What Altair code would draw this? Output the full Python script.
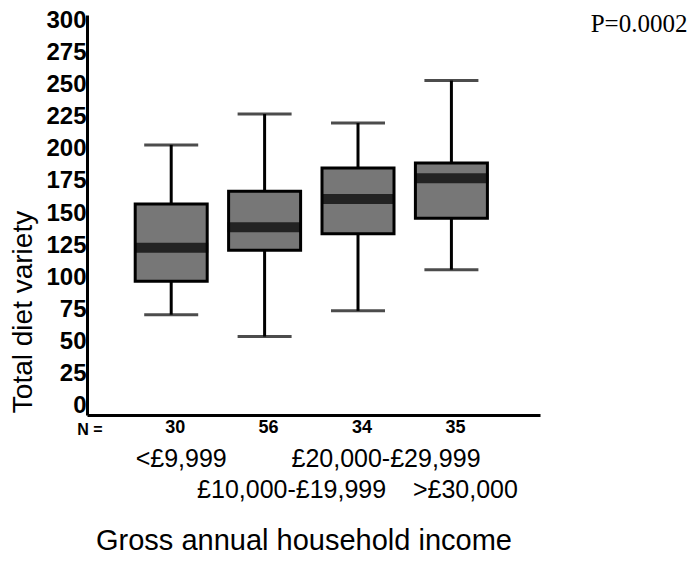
import altair as alt
import pandas as pd

# ---- data ----
categories = ["<£9,999", "£10,000-£19,999", "£20,000-£29,999", ">£30,000"]
positions = [1, 2, 3, 4]
n_values = [30, 56, 34, 35]
whisker_low = [71, 54, 74, 106]
q1 = [97, 121, 134, 146]
median = [123, 139, 161, 177]
q3 = [157, 167, 185, 189]
whisker_high = [203, 227, 220, 253]
label_row = [1, 2, 1, 2]
y_ticks = [0, 25, 50, 75, 100, 125, 150, 175, 200, 225, 250, 275, 300]

df = pd.DataFrame({
    "pos": positions,
    "category": categories,
    "n": [str(v) for v in n_values],
    "lo": whisker_low,
    "q1": q1,
    "med": median,
    "q3": q3,
    "hi": whisker_high,
    "row": label_row,
})

SANS = "Liberation Sans, Arial, Helvetica, sans-serif"
SERIF = "Liberation Serif, Times New Roman, serif"

x_scale = alt.Scale(domain=[0.152, 4.895], nice=False, zero=False)
y_scale = alt.Scale(domain=[-7, 304], nice=False, zero=False)

base = alt.Chart(df)

x_axis = alt.Axis(labels=False, ticks=False, grid=False, title=None,
                  domainColor="black", domainWidth=3)
y_axis = alt.Axis(values=y_ticks, tickCount=13, grid=False, title=None, tickSize=0,
                  labelPadding=1, labelFont=SANS, labelFontSize=24,
                  labelFontWeight="bold", labelColor="black", labelOverlap=False,
                  labelBound=False, labelSeparation=0,
                  domainColor="black", domainWidth=3)


def X():
    return alt.X("pos:Q", scale=x_scale, axis=x_axis)


def Y(field):
    return alt.Y(field, scale=y_scale, axis=y_axis)


whisker = base.mark_rule(color="black", strokeWidth=3).encode(
    x=X(), y=Y("lo:Q"), y2="hi:Q")
cap_low = base.mark_tick(orient="horizontal", size=54, thickness=3, color="black").encode(
    x=X(), y=Y("lo:Q"))
cap_high = base.mark_tick(orient="horizontal", size=54, thickness=3, color="black").encode(
    x=X(), y=Y("hi:Q"))
box = base.mark_bar(size=72, fill="#777777", stroke="black", strokeWidth=3).encode(
    x=X(), y=Y("q1:Q"), y2="q3:Q")
med_band = base.mark_tick(orient="horizontal", size=74, thickness=10, color="black").encode(
    x=X(), y=Y("med:Q"))

n_text = base.mark_text(font=SANS, fontSize=18, fontWeight="bold", color="black",
                        baseline="middle", dx=4).encode(
    x=X(), y=alt.value(413), text="n:N")
n_label = alt.Chart(pd.DataFrame({"t": ["N ="]})).mark_text(
    font=SANS, fontSize=16, fontWeight="bold", color="black", baseline="middle").encode(
    x=alt.value(3), y=alt.value(415), text="t:N")

label_dx = [10, 27, 28, 14]
label_layers = []
for i, p in enumerate(positions):
    yv = 444 if label_row[i] == 1 else 475
    label_layers.append(
        base.transform_filter(alt.datum.pos == p).mark_text(
            font=SANS, fontSize=25, color="black", baseline="middle", dx=label_dx[i]
        ).encode(x=X(), y=alt.value(yv), text="category:N")
    )

x_title = alt.Chart(pd.DataFrame({"t": ["Gross annual household income"]})).mark_text(
    font=SANS, fontSize=29, color="black", baseline="alphabetic").encode(
    x=alt.value(217), y=alt.value(535), text="t:N")
y_title = alt.Chart(pd.DataFrame({"t": ["Total diet variety"]})).mark_text(
    font=SANS, fontSize=28, color="black", baseline="middle", angle=270).encode(
    x=alt.value(-63), y=alt.value(297), text="t:N")
p_text = alt.Chart(pd.DataFrame({"t": ["P=0.0002"]})).mark_text(
    font=SERIF, fontSize=25, color="black", baseline="middle").encode(
    x=alt.value(552), y=alt.value(9), text="t:N")

chart = alt.layer(
    whisker, cap_low, cap_high, box, med_band, n_text, n_label,
    *label_layers, x_title, y_title, p_text
).properties(
    width=453, height=400,
    autosize=alt.AutoSizeParams(type="none"),
    padding={"left": 79, "top": 7, "right": 149, "bottom": 141},
    background="white",
).configure_view(stroke=None).configure_axis(labelOverlap=False, labelSeparation=0)

chart.save("out.html", embed_options={"renderer": "svg", "actions": False})
